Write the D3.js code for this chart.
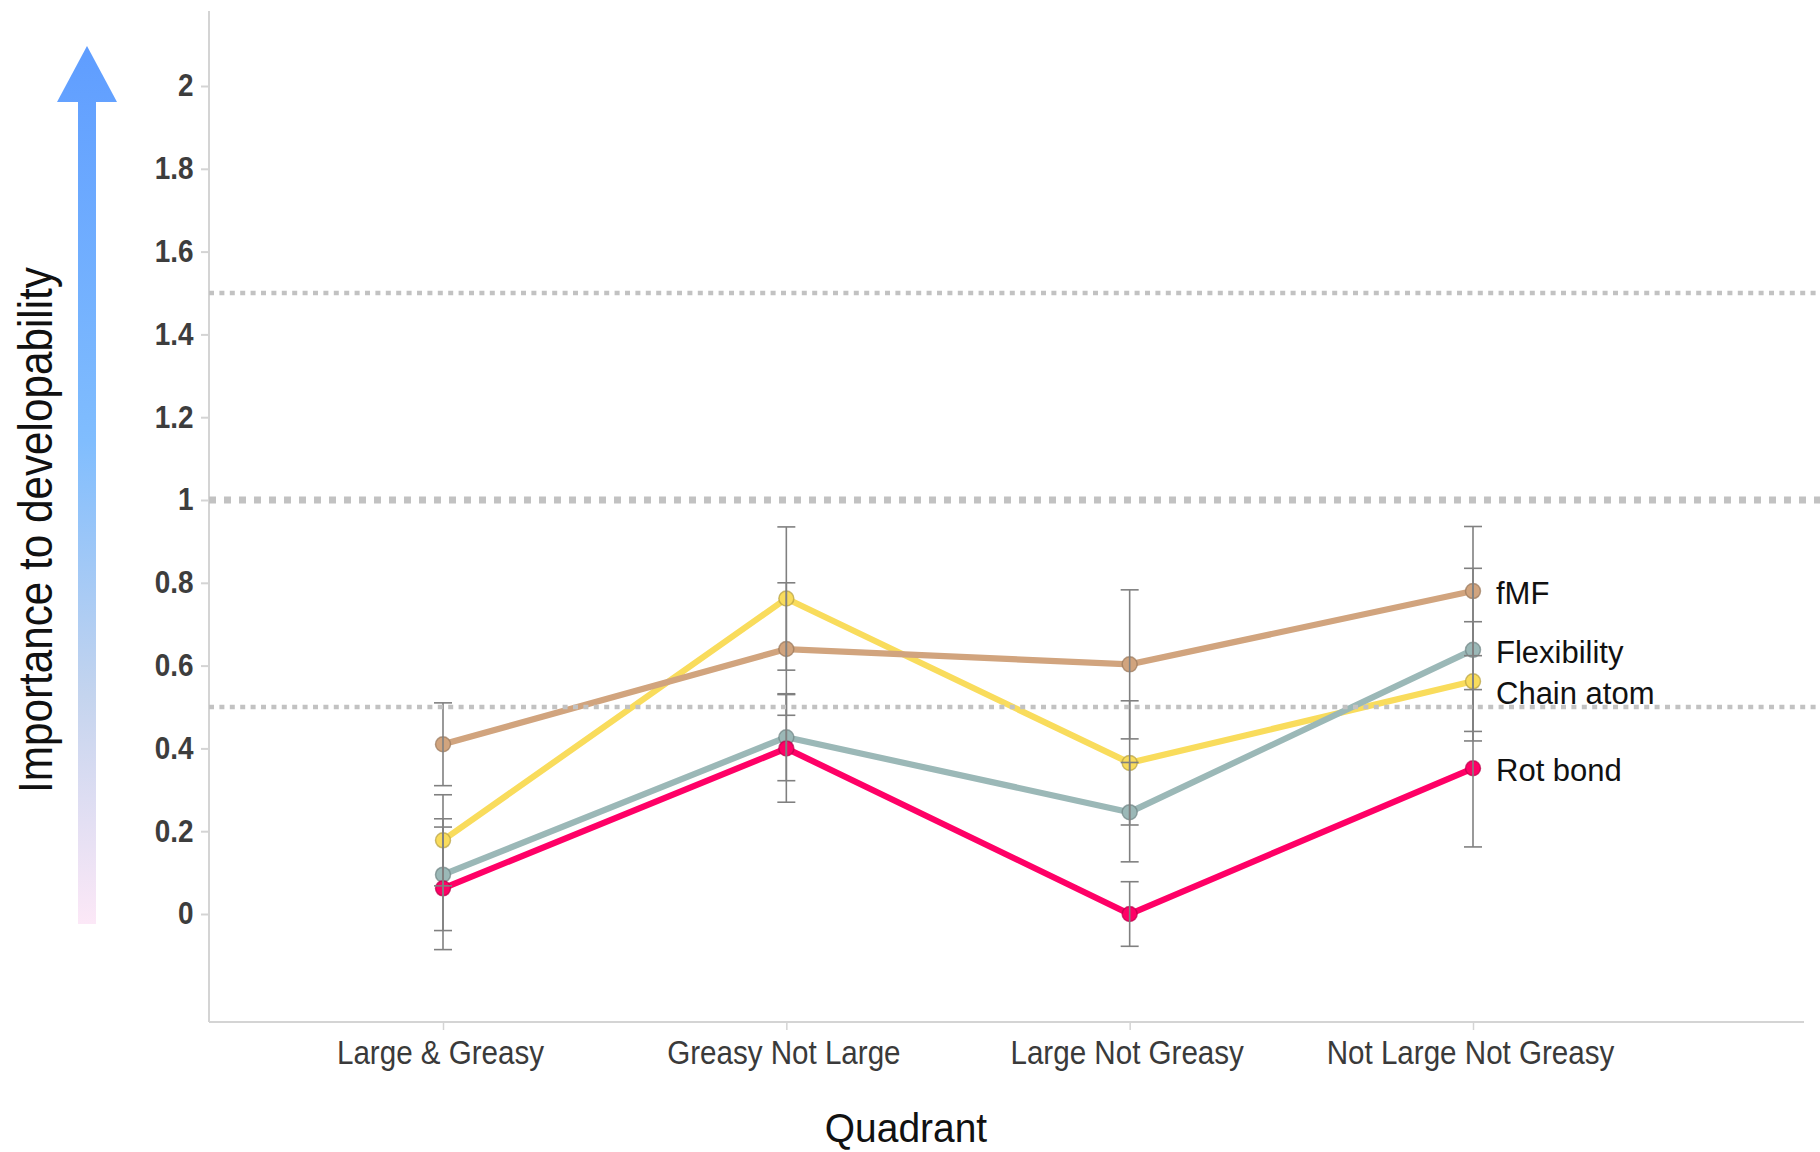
<!DOCTYPE html>
<html>
<head>
<meta charset="utf-8">
<script src="https://cdn.jsdelivr.net/npm/d3@7"></script>
<style>
  body { margin: 0; background: #fff; }
  text { font-family: "Liberation Sans", Arial, sans-serif; }
</style>
</head>
<body>
<script>
// quadrants on the x axis
var categories = ["Large & Greasy", "Greasy Not Large", "Large Not Greasy", "Not Large Not Greasy"];

// one list of means and one of error half-widths per descriptor
var fmfValues = [0.41, 0.64, 0.603, 0.78],
    fmfErrors = [0.10, 0.16, 0.18, 0.156];
var flexValues = [0.095, 0.427, 0.246, 0.638],
    flexErrors = [0.135, 0.105, 0.12, 0.197];
var chainValues = [0.178, 0.762, 0.365, 0.562],
    chainErrors = [0.11, 0.173, 0.15, 0.144];
var rotValues = [0.062, 0.40, 0.0, 0.352],
    rotErrors = [0.148, 0.13, 0.078, 0.19];

var seriesNames = ["Chain atom", "fMF", "Flexibility", "Rot bond"]; // draw order
var seriesColors = ["#F9DC5C", "#D1A47E", "#9BB8B7", "#FF0066"];

var yTicks = [0, 0.2, 0.4, 0.6, 0.8, 1, 1.2, 1.4, 1.6, 1.8, 2];
var refLines = [0.5, 1, 1.5];

window.onload = drawChart();

function drawChart(){
    var width = 1820,
        height = 1152;

    var svg = d3.select("body")
        .append("svg")
        .attr("width", width)
        .attr("height", height);

    var series = [
        {name: "Chain atom", values: chainValues, errors: chainErrors},
        {name: "fMF", values: fmfValues, errors: fmfErrors},
        {name: "Flexibility", values: flexValues, errors: flexErrors},
        {name: "Rot bond", values: rotValues, errors: rotErrors}
    ];

    var color = d3.scaleOrdinal().domain(seriesNames).range(seriesColors);

    var x = d3.scalePoint()
        .domain(categories)
        .range([443, 1473]);

    var y = d3.scaleLinear()
        .domain([0, 2])
        .range([914, 86]);

    var axisLeft = 209, axisRight = 1804, axisTop = 11, axisBottom = 1022;

    // gradient arrow on the far left
    var defs = svg.append("defs");
    var grad = defs.append("linearGradient")
        .attr("id", "arrowGrad")
        .attr("gradientUnits", "userSpaceOnUse")
        .attr("x1", 0).attr("x2", 0)
        .attr("y1", 46).attr("y2", 924);
    grad.append("stop").attr("offset", "0%").attr("stop-color", "#5F9DFF");
    grad.append("stop").attr("offset", "45%").attr("stop-color", "#80BDFE");
    grad.append("stop").attr("offset", "74%").attr("stop-color", "#C4D4EE");
    grad.append("stop").attr("offset", "100%").attr("stop-color", "#FCE8F7");

    svg.append("rect")
        .attr("x", 78).attr("y", 100)
        .attr("width", 18).attr("height", 824)
        .attr("fill", "url(#arrowGrad)");
    svg.append("path")
        .attr("d", "M57,102 L87,46 L117,102 Z")
        .attr("fill", "url(#arrowGrad)");

    svg.append("text")
        .attr("transform", "translate(52,530) rotate(-90) scale(0.88,1)")
        .attr("text-anchor", "middle")
        .attr("font-size", 48)
        .attr("fill", "#111")
        .text("Importance to developability");

    // axes lines
    svg.append("line")
        .attr("x1", axisLeft).attr("x2", axisLeft)
        .attr("y1", axisTop).attr("y2", axisBottom)
        .attr("stroke", "#d4d4d4").attr("stroke-width", 2);
    svg.append("line")
        .attr("x1", axisLeft).attr("x2", axisRight)
        .attr("y1", axisBottom).attr("y2", axisBottom)
        .attr("stroke", "#d4d4d4").attr("stroke-width", 2);

    var yAxis = d3.axisLeft(y)
        .tickValues(yTicks)
        .tickSize(7)
        .tickPadding(9)
        .tickFormat(function(d){ return String(+d.toFixed(1)); });

    var gy = svg.append("g")
        .attr("transform", "translate(" + (axisLeft - 1) + ",0)")
        .call(yAxis);
    gy.select(".domain").remove();
    gy.selectAll(".tick line").attr("stroke", "#d4d4d4").attr("stroke-width", 2);
    gy.selectAll(".tick text")
        .attr("font-family", "Liberation Sans, Arial, sans-serif")
        .attr("font-size", 31)
        .attr("font-weight", "bold")
        .attr("fill", "#3d3d3d")
        .attr("transform", "scale(0.9,1)");

    var xAxis = d3.axisBottom(x)
        .tickSize(8)
        .tickPadding(10);

    var gx = svg.append("g")
        .attr("transform", "translate(0," + axisBottom + ")")
        .call(xAxis);
    gx.select(".domain").remove();
    gx.selectAll(".tick line").attr("stroke", "#d4d4d4").attr("stroke-width", 1.5);
    gx.selectAll(".tick text")
        .attr("font-family", "Liberation Sans, Arial, sans-serif")
        .attr("font-size", 34)
        .attr("fill", "#3a3a3a")
        .attr("transform", "translate(-3,0) scale(0.87,1)");

    svg.append("text")
        .attr("transform", "translate(" + (width / 2 - 4) + ",1142) scale(0.95,1)")
        .attr("text-anchor", "middle")
        .attr("font-size", 41)
        .attr("fill", "#111")
        .text("Quadrant");

    // series lines
    var line = d3.line()
        .x(function(d, i){ return x(categories[i]); })
        .y(function(d){ return y(d); });

    svg.selectAll(".series-line")
        .data(series)
        .enter()
        .append("path")
        .attr("class", "series-line")
        .attr("d", function(d){ return line(d.values); })
        .attr("fill", "none")
        .attr("stroke", function(d){ return color(d.name); })
        .attr("stroke-width", 6.2);

    // markers
    series.forEach(function(s){
        svg.selectAll(null)
            .data(s.values)
            .enter()
            .append("circle")
            .attr("cx", function(d, i){ return x(categories[i]); })
            .attr("cy", function(d){ return y(d); })
            .attr("r", 7.5)
            .attr("fill", color(s.name))
            .attr("stroke", d3.color(color(s.name)).darker(0.9))
            .attr("stroke-opacity", 0.7)
            .attr("stroke-width", 1.5);
    });

    // error bars on top
    series.forEach(function(s){
        var g = svg.append("g")
            .attr("stroke", "#808080")
            .attr("stroke-width", 1.6);
        s.values.forEach(function(v, i){
            var cx = x(categories[i]),
                lo = y(v - s.errors[i]),
                hi = y(v + s.errors[i]);
            g.append("line").attr("x1", cx).attr("x2", cx).attr("y1", hi).attr("y2", lo);
            g.append("line").attr("x1", cx - 9).attr("x2", cx + 9).attr("y1", hi).attr("y2", hi);
            g.append("line").attr("x1", cx - 9).attr("x2", cx + 9).attr("y1", lo).attr("y2", lo);
        });
    });

    // dotted reference lines
    svg.selectAll(".ref")
        .data(refLines)
        .enter()
        .append("line")
        .attr("class", "ref")
        .attr("x1", axisLeft)
        .attr("x2", width)
        .attr("y1", function(d){ return y(d); })
        .attr("y2", function(d){ return y(d); })
        .attr("stroke", "#c2c2c2")
        .attr("stroke-width", function(d){ return d === 1 ? 7 : 4.5; })
        .attr("stroke-dasharray", function(d){ return d === 1 ? "7,8" : "5,5.4"; });

    // labels at the end of each line, pushed apart when too close
    var lastCat = categories[categories.length - 1];
    var labels = series.map(function(s){
        return {name: s.name, y: y(s.values[s.values.length - 1])};
    }).sort(function(a, b){ return a.y - b.y; });
    for (var i = 1; i < labels.length; i++){
        if (labels[i].y - labels[i - 1].y < 41) labels[i].y = labels[i - 1].y + 41;
    }

    svg.selectAll(".series-label")
        .data(labels)
        .enter()
        .append("text")
        .attr("class", "series-label")
        .attr("x", x(lastCat) + 23)
        .attr("y", function(d){ return d.y; })
        .attr("dy", "0.42em")
        .attr("font-size", 31)
        .attr("fill", "#111")
        .text(function(d){ return d.name; });
};
</script>
</body>
</html>
